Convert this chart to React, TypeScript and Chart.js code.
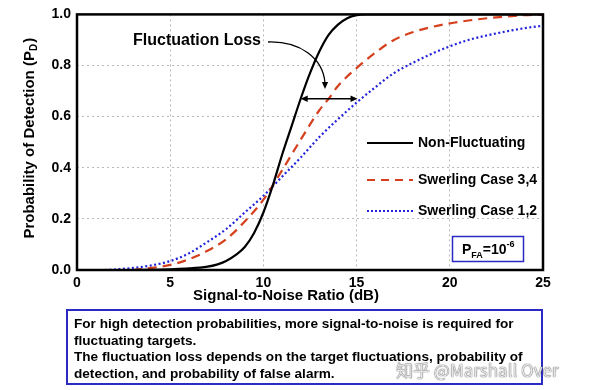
import React, { useEffect, useRef } from "react";
import { Chart, registerables } from "chart.js";

Chart.register(...registerables);

// ---- Data ----
const nonFlucSnr = [3, 4, 5, 6, 7, 7.5, 8, 8.5, 9, 9.5, 10, 10.5, 11, 11.5, 12, 12.5, 13, 13.5, 14, 14.5, 15, 15.5, 20, 25];
const nonFlucPd = [0, 0.001, 0.003, 0.006, 0.013, 0.021, 0.035, 0.058, 0.09, 0.145, 0.225, 0.33, 0.45, 0.56, 0.67, 0.77, 0.855, 0.92, 0.96, 0.985, 0.997, 1.0, 1.0, 1.0];

const sw34Snr = [3, 4, 5, 6, 7, 8, 9, 10, 11, 12, 13, 13.5, 14, 15, 16, 17, 18, 19, 20, 21, 22, 23, 24, 25];
const sw34Pd = [0, 0.008, 0.02, 0.042, 0.075, 0.12, 0.19, 0.275, 0.39, 0.51, 0.625, 0.67, 0.72, 0.79, 0.85, 0.9, 0.93, 0.95, 0.965, 0.976, 0.985, 0.991, 0.997, 1.0];

const sw12Snr = [1.5, 2, 3, 4, 5, 6, 7, 8, 9, 10, 11, 12, 13, 14, 15, 16, 17, 18, 19, 20, 21, 22, 23, 24, 25];
const sw12Pd = [0, 0.002, 0.008, 0.018, 0.035, 0.065, 0.11, 0.16, 0.225, 0.29, 0.365, 0.44, 0.52, 0.59, 0.655, 0.715, 0.77, 0.81, 0.845, 0.875, 0.9, 0.918, 0.933, 0.946, 0.956];

const seriesLabels = ["Non-Fluctuating", "Swerling Case 3,4", "Swerling Case 1,2"];
const xTicks = [0, 5, 10, 15, 20, 25];
const yTicks = [0, 0.2, 0.4, 0.6, 0.8, 1.0];

const xTitle = "Signal-to-Noise Ratio (dB)";
const yTitleMain = "Probability of Detection (P";
const yTitleSub = "D";
const annotationText = "Fluctuation Loss";
const lossPd = 0.67;
const lossFrom = 12;
const lossTo = 15.05;

const noteLines = [
  "For high detection probabilities, more signal-to-noise is required for",
  "fluctuating targets.",
  "The fluctuation loss depends on the target fluctuations, probability of",
  "detection, and probability of false alarm.",
];

const FONT = "Arial, 'Liberation Sans', sans-serif";
const BLACK = "#000000";
const RED = "#d5401e";
const BLUE = "#2222dd";
const BOXBLUE = "#2b2bc4";

const toPts = (xs: number[], ys: number[]) => xs.map((x, i) => ({ x, y: ys[i] }));

function arrowHead(ctx: CanvasRenderingContext2D, x: number, y: number, angle: number, size: number) {
  ctx.save();
  ctx.translate(x, y);
  ctx.rotate(angle);
  ctx.beginPath();
  ctx.moveTo(0, 0);
  ctx.lineTo(-size, -size * 0.45);
  ctx.lineTo(-size, size * 0.45);
  ctx.closePath();
  ctx.fill();
  ctx.restore();
}

const overlayPlugin = {
  id: "overlay",
  afterDraw(chart: any) {
    const ctx: CanvasRenderingContext2D = chart.ctx;
    const { left, right, top, bottom } = chart.chartArea;
    const xs = chart.scales.x;
    const ys = chart.scales.y;
    ctx.save();

    // frame
    ctx.strokeStyle = BLACK;
    ctx.lineWidth = 2.5;
    ctx.strokeRect(left, top, right - left, bottom - top);

    // x title
    ctx.fillStyle = BLACK;
    ctx.font = `bold 15px ${FONT}`;
    ctx.textAlign = "center";
    ctx.textBaseline = "middle";
    ctx.fillText(xTitle, 286, 296);

    // y title (rotated with subscript)
    ctx.save();
    ctx.translate(29, (top + bottom) / 2 - 4);
    ctx.rotate(-Math.PI / 2);
    ctx.font = `bold 15px ${FONT}`;
    const w1 = ctx.measureText(yTitleMain).width;
    ctx.font = `bold 10px ${FONT}`;
    const w2 = ctx.measureText(yTitleSub).width;
    ctx.font = `bold 15px ${FONT}`;
    const w3 = ctx.measureText(")").width;
    const total = w1 + w2 + w3 + 1;
    let cx = -total / 2;
    ctx.textAlign = "left";
    ctx.textBaseline = "alphabetic";
    ctx.fillText(yTitleMain, cx, 5);
    cx += w1;
    ctx.font = `bold 10px ${FONT}`;
    ctx.fillText(yTitleSub, cx, 8);
    cx += w2 + 1;
    ctx.font = `bold 15px ${FONT}`;
    ctx.fillText(")", cx, 5);
    ctx.restore();

    // legend
    const legendItems = [
      { label: seriesLabels[0], color: BLACK, dash: [] as number[], y: 143 },
      { label: seriesLabels[1], color: RED, dash: [8, 6], y: 180 },
      { label: seriesLabels[2], color: BLUE, dash: [2, 2], y: 211 },
    ];
    ctx.font = `bold 14px ${FONT}`;
    ctx.textAlign = "left";
    ctx.textBaseline = "middle";
    legendItems.forEach((it) => {
      ctx.strokeStyle = it.color;
      ctx.lineWidth = 2;
      ctx.setLineDash(it.dash);
      ctx.beginPath();
      ctx.moveTo(367, it.y);
      ctx.lineTo(413, it.y);
      ctx.stroke();
      ctx.setLineDash([]);
      ctx.fillStyle = BLACK;
      ctx.fillText(it.label, 418, it.y);
    });

    // P_FA box
    ctx.strokeStyle = BOXBLUE;
    ctx.lineWidth = 1.5;
    ctx.strokeRect(452.5, 236.5, 71, 25);
    ctx.fillStyle = BLACK;
    ctx.textBaseline = "alphabetic";
    ctx.font = `bold 14px ${FONT}`;
    let px = 462;
    ctx.fillText("P", px, 254);
    px += ctx.measureText("P").width;
    ctx.font = `bold 9px ${FONT}`;
    ctx.fillText("FA", px, 258);
    px += ctx.measureText("FA").width;
    ctx.font = `bold 14px ${FONT}`;
    ctx.fillText("=10", px, 254);
    px += ctx.measureText("=10").width;
    ctx.font = `bold 9px ${FONT}`;
    ctx.fillText("-6", px, 247);

    // Fluctuation loss annotation
    ctx.font = `bold 16px ${FONT}`;
    ctx.textBaseline = "middle";
    ctx.textAlign = "left";
    ctx.fillStyle = BLACK;
    ctx.fillText(annotationText, 133, 41);

    const ay = ys.getPixelForValue(lossPd);
    const ax1 = xs.getPixelForValue(lossFrom);
    const ax2 = xs.getPixelForValue(lossTo);
    ctx.strokeStyle = BLACK;
    ctx.lineWidth = 1.3;
    ctx.beginPath();
    ctx.moveTo(ax1 + 4, ay);
    ctx.lineTo(ax2 - 4, ay);
    ctx.stroke();
    arrowHead(ctx, ax1, ay, Math.PI, 7);
    arrowHead(ctx, ax2, ay, 0, 7);

    // curved arrow
    ctx.beginPath();
    ctx.moveTo(268, 42);
    ctx.bezierCurveTo(300, 41, 323, 58, 325, 83);
    ctx.stroke();
    arrowHead(ctx, 325, 89, Math.PI / 2, 7);

    ctx.restore();
  },
};

export default function App() {
  const canvasRef = useRef<HTMLCanvasElement | null>(null);

  useEffect(() => {
    if (!canvasRef.current) return;
    const chart = new Chart(canvasRef.current, {
      type: "line",
      data: {
        datasets: [
          {
            label: seriesLabels[0],
            data: toPts(nonFlucSnr, nonFlucPd),
            borderColor: BLACK,
            borderWidth: 2.2,
            pointRadius: 0,
            cubicInterpolationMode: "monotone",
            fill: false,
          },
          {
            label: seriesLabels[1],
            data: toPts(sw34Snr, sw34Pd),
            borderColor: RED,
            borderWidth: 2.2,
            borderDash: [9, 6],
            pointRadius: 0,
            cubicInterpolationMode: "monotone",
            fill: false,
          },
          {
            label: seriesLabels[2],
            data: toPts(sw12Snr, sw12Pd),
            borderColor: BLUE,
            borderWidth: 2.2,
            borderDash: [2, 2.5],
            pointRadius: 0,
            cubicInterpolationMode: "monotone",
            fill: false,
          },
        ],
      },
      options: {
        animation: false,
        responsive: false,
        maintainAspectRatio: false,
        devicePixelRatio: 1,
        layout: { padding: { top: 5, right: 57, left: 0, bottom: 0 } },
        plugins: {
          legend: { display: false },
          tooltip: { enabled: false },
        },
        scales: {
          x: {
            type: "linear",
            min: 0,
            max: 25,
            afterBuildTicks: (s: any) => {
              s.ticks = xTicks.map((v) => ({ value: v }));
            },
            afterFit: (s: any) => {
              s.height = 120;
            },
            ticks: {
              color: BLACK,
              font: { family: FONT, size: 14, weight: "bold" },
              padding: 5,
              maxRotation: 0,
            },
            grid: { color: "#b8b8b8", lineWidth: 1, drawTicks: false },
            border: { display: false, dash: [2, 3] },
          },
          y: {
            type: "linear",
            min: 0,
            max: 1,
            afterBuildTicks: (s: any) => {
              s.ticks = yTicks.map((v) => ({ value: v }));
            },
            afterFit: (s: any) => {
              s.width = 77;
            },
            ticks: {
              color: BLACK,
              font: { family: FONT, size: 14, weight: "bold" },
              padding: 6,
              callback: (v: any) => Number(v).toFixed(1),
            },
            grid: { color: "#b8b8b8", lineWidth: 1, drawTicks: false },
            border: { display: false, dash: [2, 3] },
          },
        },
      } as any,
      plugins: [overlayPlugin],
    });
    return () => chart.destroy();
  }, []);

  return (
    <div style={{ position: "fixed", left: 0, top: 0, width: 600, height: 390, background: "#fff", overflow: "hidden" }}>
      <canvas ref={canvasRef} width={600} height={390} style={{ position: "absolute", left: 0, top: 0, width: 600, height: 390 }} />
      <div
        style={{
          position: "absolute",
          left: 66,
          top: 309,
          width: 477,
          height: 76,
          boxSizing: "border-box",
          border: `2px solid ${BOXBLUE}`,
          padding: "5px 0 0 6px",
          fontFamily: FONT,
          fontWeight: "bold",
          fontSize: 13.6,
          lineHeight: "16.5px",
          color: "#000",
        }}
      >
        {noteLines.map((l, i) => (
          <div key={i} style={{ whiteSpace: "nowrap" }}>{l}</div>
        ))}
      </div>
      <div
        style={{
          position: "absolute",
          left: 396,
          top: 357,
          fontFamily: "'Noto Sans CJK SC', sans-serif",
          fontSize: 17,
          color: "rgba(255,255,255,0.85)",
          textShadow: "0 0 1px #555, 0 0 1px #555",
          whiteSpace: "nowrap",
        }}
      >
        知乎 @Marshall Over
      </div>
    </div>
  );
}
